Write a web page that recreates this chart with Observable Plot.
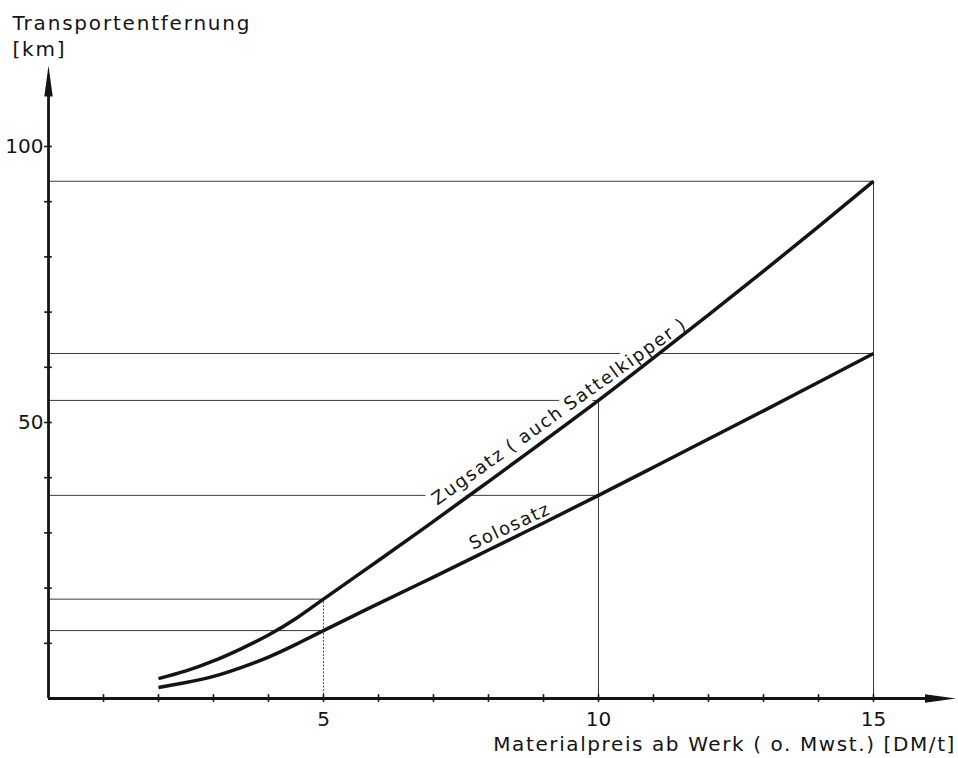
<!DOCTYPE html>
<html>
<head>
<meta charset="utf-8">
<script src="https://cdn.jsdelivr.net/npm/d3@7"></script>
<script src="https://cdn.jsdelivr.net/npm/@observablehq/plot@0.6"></script>
<style>
  html, body { margin: 0; padding: 0; background: #fff; }
  #chart svg { display: block; }
</style>
</head>
<body>
<div id="chart"></div>
<script>
// ---- data ----
const xValues  = [2, 2.5, 3, 3.5, 4, 4.5, 5, 6, 7, 8, 9, 10, 11, 12, 13, 14, 15];
const zugsatz  = [3.6, 5.0, 6.8, 9.0, 11.5, 14.5, 18.0, 25.0, 32.1, 39.3, 46.6, 54.0, 61.7, 69.5, 77.4, 85.5, 93.7];
const solosatz = [2.0, 2.9, 4.0, 5.6, 7.5, 9.8, 12.3, 17.2, 22.0, 26.9, 31.8, 36.8, 41.9, 47.0, 52.1, 57.3, 62.5];
const seriesNames = ["Zugsatz ( auch Sattelkipper )", "Solosatz"];
const labelX = [9.29, 8.39];
const labelY = [52.0, 31.2];
const labelAngle = [-35.5, -25];
const refX = [5, 10, 15];
const xTicks = [1, 2, 3, 4, 5, 6, 7, 8, 9, 10, 11, 12, 13, 14, 15];
const xTickLabels = [5, 10, 15];
const yTicks = [10, 20, 30, 40, 50, 60, 70, 80, 90, 100];
const yTickLabels = [50, 100];
const xAxisEnd = 16.5;
const yAxisEnd = 114.67;
const yTitle = ["Transportentfernung", "[km]"];
const xTitle = "Materialpreis ab Werk ( o. Mwst.) [DM/t]";

// ---- derived tables ----
const series = [zugsatz, solosatz];
const lineData = [];
series.forEach((vals, si) => xValues.forEach((x, i) => lineData.push({s: seriesNames[si], x, y: vals[i]})));
const hRules = [];
series.forEach(vals => refX.forEach(rx => hRules.push({x: rx, y: vals[xValues.indexOf(rx)]})));
const vRules = refX.map(rx => ({x: rx, y: Math.max(...series.map(v => v[xValues.indexOf(rx)]))}));
const labels = seriesNames.map((t, i) => ({text: t, x: labelX[i], y: labelY[i], a: labelAngle[i]}));

// filled narrow arrowheads as custom symbols (tip at the anchor point)
const arrowUp = {draw(ctx) { ctx.moveTo(0, 0); ctx.lineTo(4.2, 31); ctx.lineTo(-4.2, 31); ctx.closePath(); }};
const arrowRight = {draw(ctx) { ctx.moveTo(0, 0); ctx.lineTo(-31, -4.2); ctx.lineTo(-31, 4.2); ctx.closePath(); }};

const ink = "#141414";
const font = "DejaVu Sans";

const chart = Plot.plot({
  width: 958,
  height: 758,
  marginLeft: 48,
  marginRight: 2.5,
  marginTop: 65,
  marginBottom: 60,
  style: {fontFamily: font, background: "#fff"},
  x: {domain: [0, xAxisEnd], axis: null},
  y: {domain: [0, yAxisEnd], axis: null},
  marks: [
    // reference lines
    Plot.ruleY(hRules, {y: "y", x1: 0, x2: "x", stroke: "#3a3a3a", strokeWidth: 1}),
    Plot.ruleX(vRules.filter(d => d.x !== 5), {x: "x", y1: 0, y2: "y", stroke: "#3a3a3a", strokeWidth: 1}),
    Plot.ruleX(vRules.filter(d => d.x === 5), {x: "x", y1: 0, y2: "y", stroke: "#555", strokeWidth: 1, strokeDasharray: "2,1.5"}),
    // curve labels with halo (cuts the thin lines)
    Plot.text(labels, {
      x: "x", y: "y", text: "text", rotate: d => d.a,
      fontSize: 18, fill: ink, stroke: "white", strokeWidth: 10,
      textAnchor: "middle", lineAnchor: "middle"
    }),
    // curves
    Plot.line(lineData, {x: "x", y: "y", z: "s", stroke: ink, strokeWidth: 3.5, curve: "natural", strokeLinecap: "butt"}),
    // axes
    Plot.ruleY([0], {x1: 0, x2: xAxisEnd - 0.3, stroke: ink, strokeWidth: 2.8}),
    Plot.ruleX([0], {y1: 0, y2: yAxisEnd - 3, stroke: ink, strokeWidth: 2.8}),
    Plot.dot([xAxisEnd], {x: d => d, y: 0, symbol: arrowRight, fill: ink, stroke: null}),
    Plot.dot([yAxisEnd], {x: 0, y: d => d, symbol: arrowUp, fill: ink, stroke: null}),
    // ticks (crossing the axis)
    Plot.ruleX(xTicks, {x: d => d, y1: -0.7, y2: 0.7, stroke: ink, strokeWidth: 1.6}),
    Plot.ruleY(yTicks, {y: d => d, x1: -0.07, x2: 0.07, stroke: ink, strokeWidth: 1.6}),
    // tick labels
    Plot.text(xTickLabels, {x: d => d, y: 0, dy: 21, text: d => String(d), fontSize: 20, fill: ink, lineAnchor: "middle"}),
    Plot.text(yTickLabels, {x: 0, y: d => d, dx: -5, text: d => String(d), fontSize: 20, fill: ink, textAnchor: "end", lineAnchor: "middle"}),
    // axis titles
    Plot.text([yTitle[0]], {frameAnchor: "top-left", dx: -36, dy: -42.4, text: d => d, fontSize: 20, fill: ink, textAnchor: "start", lineAnchor: "middle"}),
    Plot.text([yTitle[1]], {frameAnchor: "top-left", dx: -36, dy: -16.4, text: d => d, fontSize: 20, fill: ink, textAnchor: "start", lineAnchor: "middle"}),
    Plot.text([xTitle], {frameAnchor: "bottom-right", dx: 0, dy: 45.6, text: d => d, fontSize: 20, fill: ink, textAnchor: "end", lineAnchor: "middle"})
  ]
});

// wide technical lettering spacing
const spacing = new Map([
  [yTitle[0], [1.8, 0]], [yTitle[1], [1.8, 0]], [xTitle, [1.6, 0]],
  [seriesNames[0], [1.8, -1.5]], [seriesNames[1], [1.5, 0]]
]);
d3.select(chart).selectAll("text").each(function() {
  const s = spacing.get(this.textContent);
  if (s != null) {
    this.setAttribute("letter-spacing", s[0]);
    if (s[1]) this.setAttribute("word-spacing", s[1]);
  }
});
document.getElementById("chart").appendChild(chart);
</script>
</body>
</html>
